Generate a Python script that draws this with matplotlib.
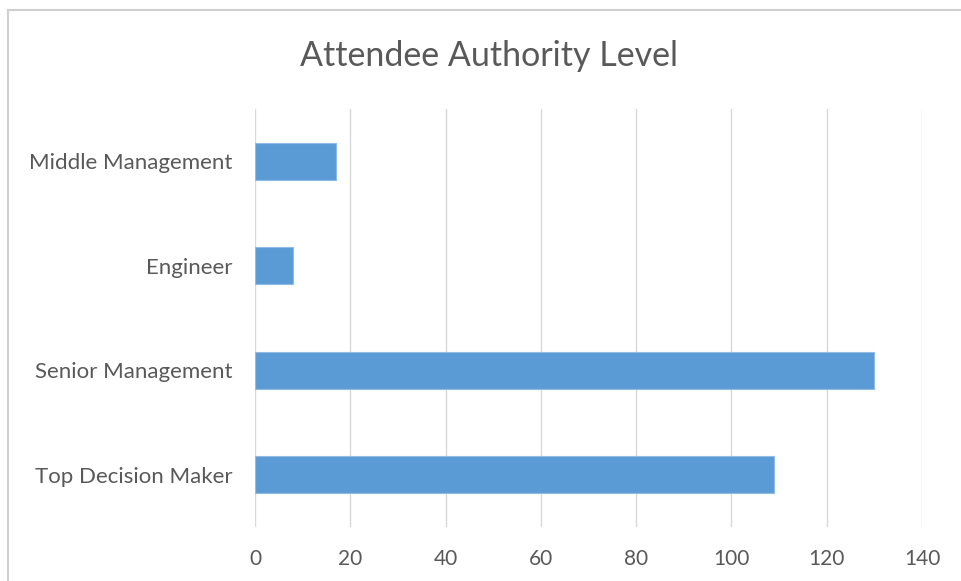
import matplotlib.pyplot as plt
from matplotlib.patches import Rectangle

# data
categories = ["Top Decision Maker", "Senior Management", "Engineer", "Middle Management"]
counts = [109, 130, 8, 17]
xticks = [0, 20, 40, 60, 80, 100, 120, 140]

plt.rcParams['font.family'] = ['Lato', 'DejaVu Sans']

fig = plt.figure(figsize=(9.62, 5.81), dpi=100)
fig.patch.set_facecolor('white')

# chart frame
fig.patches.append(Rectangle((8 / 962, -0.01), 1.0, 1 - 10 / 581 + 0.01,
                             transform=fig.transFigure, fill=False,
                             edgecolor='#d0d0d0', linewidth=1.5))

ax = fig.add_axes([255 / 962, 1 - 527 / 581, (922 - 255) / 962, (527 - 109) / 581])
ax.barh(range(len(categories)), counts, height=0.35, color='#5b9bd5',
        edgecolor='#8fbbe6', linewidth=0.8, zorder=3)

ax.set_xlim(0, 140)
ax.set_ylim(-0.5, len(categories) - 0.5)
ax.set_xticks(xticks)
ax.set_yticks(range(len(categories)))
ax.set_yticklabels(categories)
ax.grid(axis='x', color='#d9d9d9', linewidth=1, zorder=0)
for s in ax.spines.values():
    s.set_visible(False)
ax.tick_params(axis='y', length=0, labelsize=16, labelcolor='#595959', pad=16)
ax.tick_params(axis='x', length=0, labelsize=15, labelcolor='#595959', pad=16)

fig.text(489 / 962, 1 - 56 / 581, "Attendee Authority Level", ha='center', va='center',
         fontsize=24.5, color='#595959')

fig.savefig('out.png', dpi=100)
